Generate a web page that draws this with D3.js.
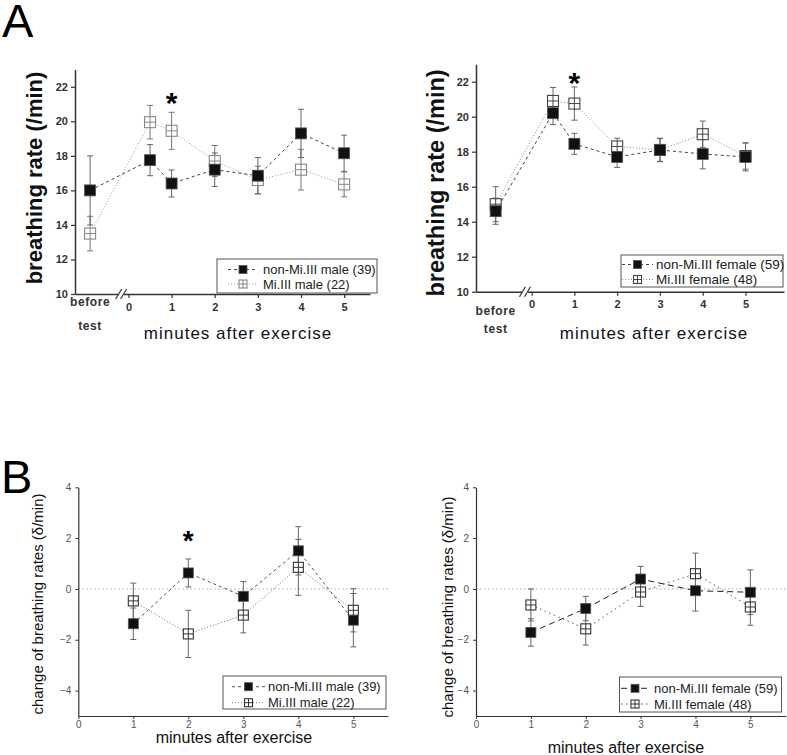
<!DOCTYPE html>
<html><head><meta charset="utf-8">
<script src="https://cdn.jsdelivr.net/npm/d3@7"></script>
<style>body{margin:0;background:#fff}svg{display:block}text{font-family:"Liberation Sans",Arial,sans-serif}</style>
</head><body>
<svg id="c" width="787" height="755"></svg>
<script>
// ---------- DATA ----------
const aTimes = ["before", 0.5, 1, 2, 3, 4, 5];
const aXTicks = [0, 1, 2, 3, 4, 5];
const aYTicks = [10, 12, 14, 16, 18, 20, 22];
const maleNonMean = [16.0, 17.75, 16.4, 17.2, 16.85, 19.3, 18.15];
const maleNonSem  = [2.0, 0.9, 0.78, 0.97, 1.05, 1.4, 1.05];
const maleMiMean  = [13.5, 19.95, 19.45, 17.7, 16.6, 17.2, 16.35];
const maleMiSem   = [1.0, 0.97, 1.07, 0.9, 0.8, 1.18, 0.72];
const femNonMean  = [14.6, 20.2, 18.45, 17.7, 18.1, 17.87, 17.7];
const femNonSem   = [0.75, 0.65, 0.6, 0.6, 0.67, 0.85, 0.8];
const femMiMean   = [15.0, 20.9, 20.75, 18.3, 18.1, 19.0, 17.75];
const femMiSem    = [1.0, 0.77, 0.95, 0.47, 0.65, 0.75, 0.75];

const bTimes = [1, 2, 3, 4, 5];
const bXTicks = [0, 1, 2, 3, 4, 5];
const bYTicks = [-4, -2, 0, 2, 4];
const dMaleNonMean = [-1.37, 0.63, -0.29, 1.5, -1.23];
const dMaleNonSem  = [0.62, 0.55, 0.58, 0.95, 1.05];
const dMaleMiMean  = [-0.47, -1.77, -1.03, 0.85, -0.84];
const dMaleMiSem   = [0.7, 0.93, 0.7, 1.1, 0.85];
const dFemNonMean  = [-1.71, -0.77, 0.39, -0.07, -0.13];
const dFemNonSem   = [0.54, 0.48, 0.5, 0.8, 0.88];
const dFemMiMean   = [-0.63, -1.57, -0.12, 0.6, -0.71];
const dFemMiSem    = [0.63, 0.64, 0.57, 0.81, 0.72];

const legendMale = ["non-Mi.III male (39)", "Mi.III male (22)"];
const legendFemale = ["non-Mi.III female (59)", "Mi.III female (48)"];
const yTitleA = "breathing rate (/min)";
const yTitleB = "change of breathing rates (\u03b4/min)";
const xTitle = "minutes after exercise";

// ---------- DRAW ----------
const svg = d3.select("#c");
const FONT = '"Liberation Sans",Arial,sans-serif';
const NARROW = '"Liberation Sans Narrow","Liberation Sans",Arial,sans-serif';

svg.append("text").attr("x", 2).attr("y", 37).attr("font-size", 47).text("A");
svg.append("text").attr("x", 1).attr("y", 493).attr("font-size", 47).text("B");

function marker(g, cx, cy, type, size, color) {
  const h = size / 2;
  if (type === "filled") {
    g.append("rect").attr("x", cx - h).attr("y", cy - h).attr("width", size).attr("height", size)
      .attr("fill", "#111").attr("stroke", "#555").attr("stroke-width", 0.8);
  } else {
    g.append("rect").attr("x", cx - h).attr("y", cy - h).attr("width", size).attr("height", size)
      .attr("fill", "#fff").attr("stroke", color).attr("stroke-width", 1.1);
    g.append("line").attr("x1", cx).attr("x2", cx).attr("y1", cy - h).attr("y2", cy + h).attr("stroke", color).attr("stroke-width", 1);
    g.append("line").attr("x1", cx - h).attr("x2", cx + h).attr("y1", cy).attr("y2", cy).attr("stroke", color).attr("stroke-width", 1);
  }
}

function drawSeries(g, xs, ys, times, mean, sem, st) {
  const pts = times.map((t, i) => [xs(t), ys(mean[i])]);
  g.append("path").attr("d", d3.line()(pts)).attr("fill", "none")
    .attr("stroke", st.lineColor).attr("stroke-width", 1).attr("stroke-dasharray", st.dash);
  times.forEach((t, i) => {
    const x = xs(t), y1 = ys(mean[i] + sem[i]), y2 = ys(mean[i] - sem[i]);
    g.append("line").attr("x1", x).attr("x2", x).attr("y1", y1).attr("y2", y2).attr("stroke", st.errColor).attr("stroke-width", 1);
    [y1, y2].forEach(y => g.append("line").attr("x1", x - 3).attr("x2", x + 3).attr("y1", y).attr("y2", y).attr("stroke", st.errColor).attr("stroke-width", 1));
  });
}
function drawMarkers(g, xs, ys, times, mean, st) {
  times.forEach((t, i) => marker(g, xs(t), ys(mean[i]), st.type, st.size, st.markColor));
}

function legend(g, box, rows, styles, fs) {
  g.append("rect").attr("x", box.x).attr("y", box.y).attr("width", box.w).attr("height", box.h)
    .attr("fill", "#fff").attr("stroke", "#555").attr("stroke-width", 1);
  rows.forEach((label, i) => {
    const st = styles[i], y = box.rowY[i];
    g.append("line").attr("x1", box.lx1).attr("x2", box.lx2).attr("y1", y).attr("y2", y)
      .attr("stroke", st.lineColor).attr("stroke-width", 1).attr("stroke-dasharray", st.dash);
    marker(g, (box.lx1 + box.lx2) / 2, y, st.type, 8, st.markColor);
    g.append("text").attr("x", box.tx).attr("y", y + fs * 0.36).attr("font-size", fs).attr("fill", "#222").text(label);
  });
}

function panelA(cfg) {
  const g = svg.append("g");
  const xs0 = d3.scaleLinear().domain(cfg.xDom).range(cfg.xRange);
  const xs = t => t === "before" ? xs0(cfg.beforePos) : xs0(t);
  const ys = d3.scaleLinear().domain([10, 23]).range(cfg.yRange);
  const ya = g.append("g").attr("transform", `translate(${cfg.xRange[0]},0)`)
    .call(d3.axisLeft(ys).tickValues(aYTicks).tickSize(4).tickSizeOuter(0).tickPadding(3));
  ya.select(".domain").attr("stroke", "#333").attr("stroke-width", 1.5);
  ya.selectAll(".tick line").attr("stroke", "#333").attr("stroke-width", 1.2);
  ya.selectAll(".tick text").attr("font-family", FONT).attr("font-size", 11).attr("font-weight", "bold").attr("fill", "#333");
  const xa = g.append("g").attr("transform", `translate(0,${cfg.yRange[0]})`)
    .call(d3.axisBottom(xs0).tickValues(aXTicks).tickSize(4).tickSizeOuter(0).tickPadding(5).tickFormat(d3.format("d")));
  xa.select(".domain").attr("stroke", "#333").attr("stroke-width", 1.5);
  xa.selectAll(".tick line").attr("stroke", "#333").attr("stroke-width", 1.2);
  xa.selectAll(".tick text").attr("font-family", FONT).attr("font-size", 11).attr("font-weight", "bold").attr("fill", "#333");
  const bx = xs0(cfg.breakPos), by = cfg.yRange[0];
  g.append("rect").attr("x", bx - 3).attr("y", by - 2).attr("width", 6).attr("height", 4).attr("fill", "#fff");
  [-2.5, 2.5].forEach(o => g.append("line").attr("x1", bx + o - 3).attr("x2", bx + o + 3).attr("y1", by + 5).attr("y2", by - 5).attr("stroke", "#333").attr("stroke-width", 1.2));
  g.append("text").attr("x", xs("before")).attr("y", cfg.beforeY).attr("text-anchor", "middle").attr("font-size", 12).attr("font-weight", "bold").attr("fill", "#333").attr("letter-spacing", 0.6).text("before");
  g.append("text").attr("x", xs("before")).attr("y", cfg.beforeY + cfg.testGap).attr("text-anchor", "middle").attr("font-size", 12).attr("font-weight", "bold").attr("fill", "#333").attr("letter-spacing", 0.6).text("test");
  g.append("text").attr("transform", `translate(${cfg.yTitleX},${cfg.yTitleY}) rotate(-90)`).attr("text-anchor", "middle")
    .attr("font-size", cfg.yTitleFs).attr("font-weight", "bold").attr("fill", "#111").text(yTitleA);
  g.append("text").attr("x", cfg.xTitleX).attr("y", cfg.xTitleY).attr("text-anchor", "middle").attr("font-size", 17).attr("letter-spacing", 1).attr("fill", "#111").text(xTitle);
  drawSeries(g, xs, ys, aTimes, cfg.s[1].mean, cfg.s[1].sem, cfg.s[1].st);
  drawSeries(g, xs, ys, aTimes, cfg.s[0].mean, cfg.s[0].sem, cfg.s[0].st);
  drawMarkers(g, xs, ys, aTimes, cfg.s[1].mean, cfg.s[1].st);
  drawMarkers(g, xs, ys, aTimes, cfg.s[0].mean, cfg.s[0].st);
  g.append("text").attr("x", xs(1)).attr("y", cfg.starY).attr("text-anchor", "middle").attr("font-size", 30).attr("font-weight", "bold").text("*");
  legend(g, cfg.legend, cfg.legendRows, [cfg.s[0].st, cfg.s[1].st], cfg.legendFs);
}

function panelB(cfg) {
  const g = svg.append("g");
  const xs = d3.scaleLinear().domain(cfg.xDom).range(cfg.xRange);
  const ys = d3.scaleLinear().domain([-5, 4]).range([716, 487.3]);
  g.append("line").attr("x1", cfg.xRange[0]).attr("x2", cfg.xRange[1]).attr("y1", ys(0)).attr("y2", ys(0))
    .attr("stroke", "#aaa").attr("stroke-width", 1).attr("stroke-dasharray", "1.5,2.5");
  const ya = g.append("g").attr("transform", `translate(${cfg.xRange[0]},0)`)
    .call(d3.axisLeft(ys).tickValues(bYTicks).tickSize(3).tickSizeOuter(0).tickPadding(4));
  ya.select(".domain").attr("stroke", "#333").attr("stroke-width", 1.2);
  ya.selectAll(".tick line").attr("stroke", "#333");
  ya.selectAll(".tick text").attr("font-family", NARROW).attr("font-size", 10).attr("fill", "#555");
  const xa = g.append("g").attr("transform", `translate(0,716)`)
    .call(d3.axisBottom(xs).tickValues(bXTicks).tickSize(3).tickSizeOuter(0).tickPadding(2).tickFormat(d3.format("d")));
  xa.select(".domain").attr("stroke", "#333").attr("stroke-width", 1.2);
  xa.selectAll(".tick line").attr("stroke", "#333");
  xa.selectAll(".tick text").attr("font-family", NARROW).attr("font-size", 10).attr("fill", "#555");
  g.append("text").attr("transform", `translate(${cfg.yTitleX},${cfg.yTitleY}) rotate(-90)`).attr("text-anchor", "middle")
    .attr("font-size", 15).attr("fill", "#111").text(yTitleB);
  g.append("text").attr("x", cfg.xTitleX).attr("y", cfg.xTitleY).attr("text-anchor", "middle").attr("font-size", 16).attr("fill", "#111").text(xTitle);
  drawSeries(g, xs, ys, bTimes, cfg.s[1].mean, cfg.s[1].sem, cfg.s[1].st);
  drawSeries(g, xs, ys, bTimes, cfg.s[0].mean, cfg.s[0].sem, cfg.s[0].st);
  drawMarkers(g, xs, ys, bTimes, cfg.s[1].mean, cfg.s[1].st);
  drawMarkers(g, xs, ys, bTimes, cfg.s[0].mean, cfg.s[0].st);
  if (cfg.star) g.append("text").attr("x", xs(cfg.star)).attr("y", 550).attr("text-anchor", "middle").attr("font-size", 28).attr("font-weight", "bold").text("*");
  legend(g, cfg.legend, cfg.legendRows, [cfg.s[0].st, cfg.s[1].st], cfg.legendFs);
}

const stNonA = {type: "filled", size: 11, lineColor: "#444", dash: "3,3", errColor: "#666", markColor: "#111"};
const stMiMaleA = {type: "open", size: 11, lineColor: "#999", dash: "1,2", errColor: "#777", markColor: "#888"};
const stMiFemA = {type: "open", size: 11, lineColor: "#888", dash: "1,2", errColor: "#666", markColor: "#444"};

panelA({
  xDom: [-1.24, 5.6], xRange: [75, 370], yRange: [294, 69.5], beforePos: -0.89, breakPos: -0.17,
  beforeY: 306, testGap: 24, yTitleX: 42, yTitleY: 178, yTitleFs: 22, xTitleX: 238, xTitleY: 339, starY: 113,
  s: [{mean: maleNonMean, sem: maleNonSem, st: stNonA}, {mean: maleMiMean, sem: maleMiSem, st: stMiMaleA}],
  legend: {x: 217, y: 259, w: 160, h: 34, rowY: [269.5, 284], lx1: 228, lx2: 258, tx: 263},
  legendRows: legendMale, legendFs: 13
});
panelA({
  xDom: [-1.30, 5.9], xRange: [476, 784], yRange: [291.7, 64.2], beforePos: -0.84, breakPos: -0.155,
  beforeY: 315, testGap: 18, yTitleX: 444, yTitleY: 183, yTitleFs: 23.5, xTitleX: 654, xTitleY: 339, starY: 93,
  s: [{mean: femNonMean, sem: femNonSem, st: stNonA}, {mean: femMiMean, sem: femMiSem, st: stMiFemA}],
  legend: {x: 621, y: 255, w: 162, h: 32, rowY: [264.5, 279.5], lx1: 622, lx2: 653, tx: 656},
  legendRows: legendFemale, legendFs: 13.5
});

const stNonB = {type: "filled", size: 10, lineColor: "#555", dash: "3,3", errColor: "#666", markColor: "#111"};
const stMiB = {type: "open", size: 10, lineColor: "#777", dash: "1,2", errColor: "#666", markColor: "#333"};
const stNonBF = {type: "filled", size: 10, lineColor: "#222", dash: "6,4", errColor: "#666", markColor: "#111"};
const stMiBF = {type: "open", size: 10, lineColor: "#555", dash: "1.5,3.5", errColor: "#666", markColor: "#333"};

panelB({
  xDom: [0, 5.63], xRange: [78.3, 388], yTitleX: 43, yTitleY: 604, xTitleX: 234, xTitleY: 743, star: 2,
  s: [{mean: dMaleNonMean, sem: dMaleNonSem, st: stNonB}, {mean: dMaleMiMean, sem: dMaleMiSem, st: stMiB}],
  legend: {x: 223, y: 676, w: 163, h: 33, rowY: [686.7, 702.7], lx1: 232, lx2: 265, tx: 268},
  legendRows: legendMale, legendFs: 13
});
panelB({
  xDom: [0, 5.65], xRange: [476, 786], yTitleX: 453, yTitleY: 607, xTitleX: 626, xTitleY: 753, star: null,
  s: [{mean: dFemNonMean, sem: dFemNonSem, st: stNonBF}, {mean: dFemMiMean, sem: dFemMiSem, st: stMiBF}],
  legend: {x: 619.5, y: 677, w: 162, h: 35, rowY: [688.3, 704], lx1: 621, lx2: 649, tx: 654},
  legendRows: legendFemale, legendFs: 13
});
</script>
</body></html>
